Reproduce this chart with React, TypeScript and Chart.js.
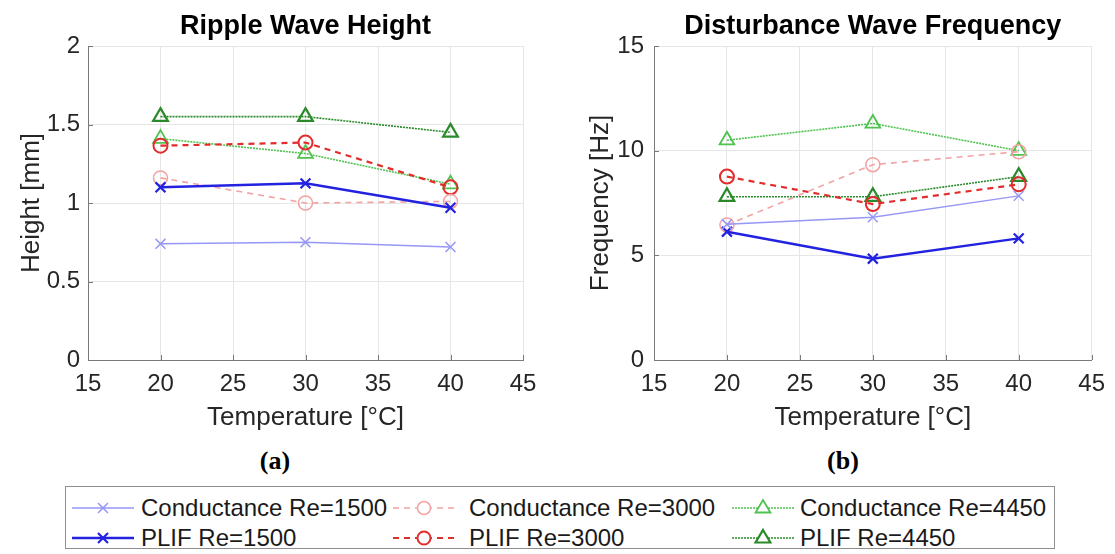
import React, { useEffect, useRef } from "react";
import { Chart, registerables } from "chart.js";

Chart.register(...registerables);

// ---------- data ----------
const temperatures = [20, 30, 40];
const seriesLabels = [
  "Conductance Re=1500",
  "PLIF Re=1500",
  "Conductance Re=3000",
  "PLIF Re=3000",
  "Conductance Re=4450",
  "PLIF Re=4450",
];

const heightCond1500 = [0.74, 0.75, 0.72];
const heightPlif1500 = [1.1, 1.125, 0.97];
const heightCond3000 = [1.16, 1.0, 1.01];
const heightPlif3000 = [1.365, 1.385, 1.1];
const heightCond4450 = [1.41, 1.315, 1.12];
const heightPlif4450 = [1.55, 1.55, 1.45];

const freqCond1500 = [6.48, 6.82, 7.84];
const freqPlif1500 = [6.13, 4.84, 5.81];
const freqCond3000 = [6.45, 9.33, 9.95];
const freqPlif3000 = [8.76, 7.45, 8.39];
const freqCond4450 = [10.5, 11.3, 10.0];
const freqPlif4450 = [7.8, 7.8, 8.76];

const xTickValues = [15, 20, 25, 30, 35, 40, 45];
const heightTickValues = [0, 0.5, 1, 1.5, 2];
const freqTickValues = [0, 5, 10, 15];

// ---------- styles ----------
const FONT = '"Liberation Sans", Arial, Helvetica, sans-serif';

type SeriesStyle = {
  color: string;
  width: number;
  dash: number[];
  marker: "x" | "o" | "tri";
  markerWidth: number;
};

const styles: SeriesStyle[] = [
  { color: "#9797f7", width: 1.5, dash: [], marker: "x", markerWidth: 1.5 },
  { color: "#2222e0", width: 2.5, dash: [], marker: "x", markerWidth: 2.2 },
  { color: "#f3a2a2", width: 1.6, dash: [6, 5], marker: "o", markerWidth: 1.5 },
  { color: "#e32c2c", width: 2.2, dash: [6, 5], marker: "o", markerWidth: 2 },
  { color: "#4fc24f", width: 1.6, dash: [2, 1], marker: "tri", markerWidth: 1.8 },
  { color: "#2a8a2a", width: 1.6, dash: [2, 1], marker: "tri", markerWidth: 2.2 },
];

const pointStyleFor = (m: string) => (m === "x" ? "crossRot" : m === "o" ? "circle" : "triangle");
const pointRadiusFor = (m: string) => (m === "x" ? 7 : m === "o" ? 7 : 8.5);

function makeDatasets(values: number[][]) {
  return values.map((vals, i) => {
    const s = styles[i];
    return {
      label: seriesLabels[i],
      data: vals.map((v, j) => ({ x: temperatures[j], y: v })),
      borderColor: s.color,
      backgroundColor: "rgba(0,0,0,0)",
      borderWidth: s.width,
      borderDash: s.dash,
      pointStyle: pointStyleFor(s.marker),
      pointRadius: pointRadiusFor(s.marker),
      pointBorderWidth: s.markerWidth,
      pointBorderColor: s.color,
      pointBackgroundColor: "rgba(0,0,0,0)",
      tension: 0,
      fill: false,
    };
  });
}

function panelTitle(text: string) {
  return {
    id: "panelTitle",
    afterDraw(chart: any) {
      const { ctx, chartArea } = chart;
      ctx.save();
      ctx.font = `bold 27px ${FONT}`;
      ctx.fillStyle = "#000";
      ctx.textAlign = "center";
      ctx.textBaseline = "middle";
      ctx.fillText(text, (chartArea.left + chartArea.right) / 2, 27);
      ctx.restore();
    },
  };
}

const inwardTicks = {
  id: "inwardTicks",
  beforeDatasetsDraw(chart: any) {
    const { ctx, chartArea, scales } = chart;
    ctx.save();
    ctx.strokeStyle = "#7a7a7a";
    ctx.lineWidth = 1;
    ctx.beginPath();
    scales.x.ticks.forEach((t: any) => {
      const px = Math.round(scales.x.getPixelForValue(t.value)) + 0.5;
      ctx.moveTo(px, chartArea.bottom);
      ctx.lineTo(px, chartArea.bottom - 5);
    });
    scales.y.ticks.forEach((t: any) => {
      const py = Math.round(scales.y.getPixelForValue(t.value)) + 0.5;
      ctx.moveTo(chartArea.left, py);
      ctx.lineTo(chartArea.left + 5, py);
    });
    ctx.stroke();
    ctx.restore();
  },
};

type PanelOpts = {
  values: number[][];
  title: string;
  yTitle: string;
  yMax: number;
  yTicks: number[];
  axisWidth: number;
  padRight: number;
  yLabelPad: number;
  yTitlePad: number;
};

function makeConfig(o: PanelOpts): any {
  return {
    type: "line",
    data: { datasets: makeDatasets(o.values) },
    options: {
      animation: false,
      responsive: false,
      devicePixelRatio: 1,
      layout: { padding: { left: 0, right: o.padRight, top: 46, bottom: 0 } },
      plugins: { legend: { display: false }, tooltip: { enabled: false }, title: { display: false } },
      scales: {
        x: {
          type: "linear",
          min: 15,
          max: 45,
          afterBuildTicks: (s: any) => {
            s.ticks = xTickValues.map((v) => ({ value: v }));
          },
          afterFit: (s: any) => {
            s.height = 80;
          },
          grid: { color: "#e6e6e6", drawTicks: false, lineWidth: 1 },
          border: { display: true, color: "#7a7a7a", width: 1 },
          ticks: {
            padding: 10,
            color: "#262626",
            font: { family: FONT, size: 24 },
            maxRotation: 0,
            callback: (v: any) => String(v),
          },
          title: {
            display: true,
            text: "Temperature [°C]",
            color: "#262626",
            font: { family: FONT, size: 26 },
            padding: { top: 0, bottom: 7 },
          },
        },
        y: {
          type: "linear",
          min: 0,
          max: o.yMax,
          afterBuildTicks: (s: any) => {
            s.ticks = o.yTicks.map((v) => ({ value: v }));
          },
          afterFit: (s: any) => {
            s.width = o.axisWidth;
          },
          grid: { color: "#e6e6e6", drawTicks: false, lineWidth: 1 },
          border: { display: true, color: "#7a7a7a", width: 1 },
          ticks: {
            padding: o.yLabelPad,
            color: "#262626",
            font: { family: FONT, size: 24 },
            callback: (v: any) => String(v),
          },
          title: {
            display: true,
            text: o.yTitle,
            color: "#262626",
            font: { family: FONT, size: 26 },
            padding: { top: o.yTitlePad, bottom: 0 },
          },
        },
      },
    },
    plugins: [panelTitle(o.title), inwardTicks],
  };
}

function Panel({ left, width, opts }: { left: number; width: number; opts: PanelOpts }) {
  const ref = useRef<HTMLCanvasElement | null>(null);
  useEffect(() => {
    if (!ref.current) return;
    const chart = new Chart(ref.current, makeConfig(opts));
    return () => chart.destroy();
  }, []);
  return (
    <canvas
      ref={ref}
      width={width}
      height={440}
      style={{ position: "absolute", left, top: 0, width, height: 440 }}
    />
  );
}

function LegendSample({ s }: { s: SeriesStyle }) {
  const w = 62;
  const cx = w / 2;
  const cy = 12;
  const dash = s.dash.length ? s.dash.join(" ") : undefined;
  let marker: React.ReactNode = null;
  if (s.marker === "x") {
    marker = (
      <g stroke={s.color} strokeWidth={s.markerWidth}>
        <line x1={cx - 5} y1={cy - 5} x2={cx + 5} y2={cy + 5} />
        <line x1={cx - 5} y1={cy + 5} x2={cx + 5} y2={cy - 5} />
      </g>
    );
  } else if (s.marker === "o") {
    marker = <circle cx={cx} cy={cy} r={6.5} fill="#fff" stroke={s.color} strokeWidth={s.markerWidth} />;
  } else {
    marker = (
      <polygon
        points={`${cx},${cy - 8} ${cx + 7.4},${cy + 4.5} ${cx - 7.4},${cy + 4.5}`}
        fill="#fff"
        stroke={s.color}
        strokeWidth={s.markerWidth}
      />
    );
  }
  return (
    <svg width={w} height={24} style={{ position: "absolute", left: 0, top: 0 }}>
      <line x1={0} y1={cy} x2={w} y2={cy} stroke={s.color} strokeWidth={s.width} strokeDasharray={dash} />
      {marker}
    </svg>
  );
}

const legendSampleX = [72, 393, 732];
const legendTextX = [141, 469, 800];
const legendRowY = [508, 538];

const captionStyle: React.CSSProperties = {
  position: "absolute",
  top: 446,
  width: 40,
  fontFamily: '"Liberation Serif", "Times New Roman", serif',
  fontWeight: "bold",
  fontSize: 26,
  lineHeight: "30px",
  textAlign: "center",
  color: "#000",
};

export default function App() {
  const heightValues = [heightCond1500, heightPlif1500, heightCond3000, heightPlif3000, heightCond4450, heightPlif4450];
  const freqValues = [freqCond1500, freqPlif1500, freqCond3000, freqPlif3000, freqCond4450, freqPlif4450];

  const entries = seriesLabels.map((label, i) => ({
    label,
    style: styles[i],
    col: Math.floor(i / 2),
    row: i % 2,
  }));

  return (
    <div
      style={{
        position: "absolute",
        left: 0,
        top: 0,
        width: 1115,
        height: 554,
        background: "#fff",
        overflow: "hidden",
      }}
    >
      <Panel
        left={0}
        width={560}
        opts={{
          values: heightValues,
          title: "Ripple Wave Height",
          yTitle: "Height [mm]",
          yMax: 2,
          yTicks: heightTickValues,
          axisWidth: 88,
          padRight: 37,
          yLabelPad: 8,
          yTitlePad: 16,
        }}
      />
      <Panel
        left={560}
        width={555}
        opts={{
          values: freqValues,
          title: "Disturbance Wave Frequency",
          yTitle: "Frequency [Hz]",
          yMax: 15,
          yTicks: freqTickValues,
          axisWidth: 94,
          padRight: 18,
          yLabelPad: 10,
          yTitlePad: 25,
        }}
      />
      <div style={{ ...captionStyle, left: 255 }}>(a)</div>
      <div style={{ ...captionStyle, left: 823 }}>(b)</div>
      <div
        style={{
          position: "absolute",
          left: 65,
          top: 486,
          width: 990,
          height: 63,
          border: "1px solid #8e8e8e",
          boxSizing: "border-box",
        }}
      />
      {entries.map((e, i) => (
        <React.Fragment key={i}>
          <div
            style={{
              position: "absolute",
              left: legendSampleX[e.col],
              top: legendRowY[e.row] - 12,
              width: 62,
              height: 24,
            }}
          >
            <LegendSample s={e.style} />
          </div>
          <div
            style={{
              position: "absolute",
              left: legendTextX[e.col],
              top: legendRowY[e.row] - 14,
              height: 28,
              lineHeight: "28px",
              fontFamily: FONT,
              fontSize: 24,
              color: "#1a1a1a",
              whiteSpace: "nowrap",
            }}
          >
            {e.label}
          </div>
        </React.Fragment>
      ))}
    </div>
  );
}
